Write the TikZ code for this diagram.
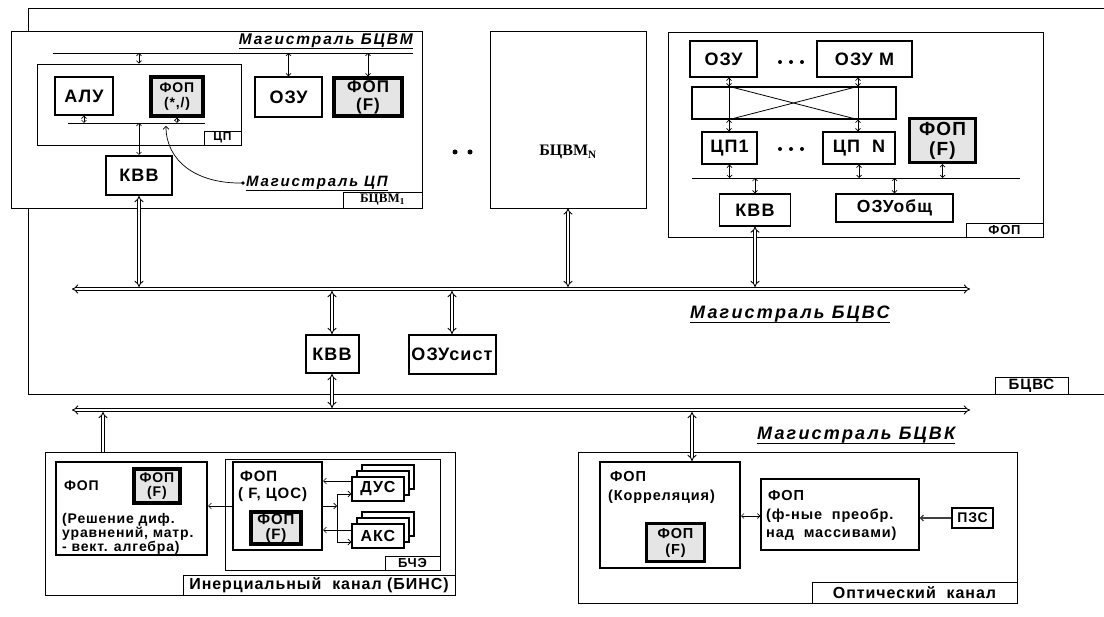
\documentclass[tikz,border=0pt]{standalone}
\usepackage{fontspec}
\setmainfont{Liberation Sans}[LetterSpace=6]
\newfontfamily\magf{Liberation Sans}[LetterSpace=12]
\newfontfamily\serf{Liberation Serif}
\usetikzlibrary{arrows.meta}
\definecolor{fopgray}{gray}{0.9}
\newcommand\fsz[2]{\fontsize{#1}{#2}\selectfont}
\tikzset{
 blk/.style={draw, line width=1.2pt, fill=white, inner sep=0pt, align=center},
 blkb/.style={draw, line width=2pt, fill=white, inner sep=0pt, align=center},
 thk/.style={draw, line width=3.2pt, fill=fopgray, inner sep=0pt, align=center},
 frame/.style={draw, line width=0.9pt, fill=white, inner sep=0pt},
 tag/.style={draw, line width=0.9pt, fill=white, inner sep=0pt},
 sarr/.style={line width=0.7pt, {Straight Barb[length=2.5pt,width=5pt]}-{Straight Barb[length=2.5pt,width=5pt]}},
 arr/.style={line width=0.7pt, -{Straight Barb[length=3pt,width=6pt]}},
 dbl/.style={double, double distance=2.2pt, line width=0.9pt, {Implies}-{Implies}},
 dblup/.style={double, double distance=2.2pt, line width=0.9pt, -{Implies}},
 txt/.style={inner sep=0pt, anchor=base west},
 mag/.style={inner sep=0pt},
}
\begin{document}
\begin{tikzpicture}[x=1pt,y=-1pt]
\useasboundingbox (0,0) rectangle (1104,617);
% outer BCVS frame
\draw[line width=0.9pt] (1104,8) -- (28,8) -- (28,394) -- (1104,394);
\node[tag, minimum width=73pt, minimum height=17pt, font=\bfseries\fsz{15}{17}] (bcvsL) at (1031.5,385.5) {БЦВС};

% BCVM1
\node[frame, minimum width=411pt, minimum height=177pt] (bcvm1) at (216.5,119.5) {};
\node[tag, minimum width=79pt, minimum height=16pt, font=\serf\bfseries\fsz{13}{15}] (bcvm1L) at (382.5,200) {БЦВМ\textsubscript{1}};
\node[mag, anchor=base east, font=\magf\bfseries\itshape\fsz{15.5}{17}] (magA) at (413,45) {Магистраль  БЦВМ};
\draw[line width=0.9pt] ([yshift=-3pt]magA.base west) -- ([yshift=-3pt]magA.base east);
\coordinate (busA1) at (53,53);
\coordinate (busA2) at (413,53);
\draw[line width=0.9pt] (busA1) -- (busA2);
\node[frame, minimum width=204pt, minimum height=81pt] (cpbox) at (139,104.5) {};
\node[tag, minimum width=37pt, minimum height=14pt, font=\bfseries\fsz{12}{14}] (cpL) at (222.5,138) {ЦП};
\draw[sarr] (cpbox.north |- busA1) -- (cpbox.north);
\node[blk, minimum width=58pt, minimum height=38pt, font=\bfseries\fsz{18}{20}] (alu) at (84,96) {АЛУ};
\node[thk, minimum width=52pt, minimum height=39pt, font=\bfseries\fsz{14}{15}] (fopm) at (177,96.5) {ФОП\\(*,/)};
\coordinate (cpb1) at (68,123);
\coordinate (cpb2) at (205,123);
\draw[line width=0.9pt] (cpb1) -- (cpb2);
\draw[sarr] (alu.south) -- (alu.south |- cpb1);
\draw[sarr] (fopm.south) -- (fopm.south |- cpb1);
\node[blkb, minimum width=66pt, minimum height=39pt, font=\bfseries\fsz{18}{20}] (kvv1) at (139,175.5) {КВВ};
\draw[sarr] (kvv1.north |- cpb1) -- (kvv1.north);
\coordinate (cpdot) at (243,183);
\fill (cpdot) circle (1.8pt);
\draw[arr] (cpdot) .. controls (195,184) and (166,160) .. (166,126);
\node[mag, anchor=base west, font=\magf\bfseries\itshape\fsz{15}{17}] (magCP) at (246,187) {Магистраль  ЦП};
\draw[line width=0.9pt] ([yshift=-3pt]magCP.base west) -- ([yshift=-3pt]magCP.base east);
\node[blk, minimum width=67pt, minimum height=40pt, font=\bfseries\fsz{18}{20}] (ozu1) at (288.5,97) {ОЗУ};
\draw[sarr] (ozu1.north |- busA1) -- (ozu1.north);
\node[thk, minimum width=68pt, minimum height=38pt, font=\bfseries\fsz{17}{18}] (fopf1) at (368,97) {ФОП\\(F)};
\draw[sarr] (fopf1.north |- busA1) -- (fopf1.north);

% dots and BCVM N
\fill (455,152) circle (2.5pt);
\fill (470,152) circle (2.5pt);
\node[frame, minimum width=156pt, minimum height=177pt] (bcvmN) at (568,119.5) {};
\node[inner sep=0pt, font=\serf\bfseries\fsz{16}{18}] (bcvmNt) at (568,152) {БЦВМ\textsubscript{N}};

% FOP region top right
\node[frame, minimum width=375pt, minimum height=205pt] (fopR) at (855.5,134.5) {};
\node[tag, minimum width=77pt, minimum height=14pt, font=\bfseries\fsz{13}{15}] (fopRL) at (1004.5,230) {ФОП};
\node[blk, minimum width=67pt, minimum height=36pt, font=\bfseries\fsz{18}{20}] (ozuA) at (723.5,59) {ОЗУ};
\node[blk, minimum width=95pt, minimum height=36pt, font=\bfseries\fsz{18}{20}] (ozuM) at (864.5,59) {ОЗУ М};
\fill (780,62) circle (2pt); \fill (791,62) circle (2pt); \fill (802,62) circle (2pt);
\node[frame, line width=1.2pt, minimum width=204pt, minimum height=32pt] (xbar) at (794,103) {};
\node[blk, minimum width=55pt, minimum height=32pt, font=\bfseries\fsz{18}{20}] (cp1) at (729.5,148) {ЦП1};
\node[blk, minimum width=72pt, minimum height=32pt, font=\bfseries\fsz{18}{20}] (cpN) at (859,148) {ЦП\ \ N};
\fill (780,149) circle (2pt); \fill (791,149) circle (2pt); \fill (802,149) circle (2pt);
\coordinate (xl) at (729,0);
\coordinate (xr) at (858,0);
\draw[sarr] (ozuA.south -| xl) -- (xbar.north -| xl);
\draw[sarr] (ozuM.south -| xr) -- (xbar.north -| xr);
\draw[line width=0.8pt] (xbar.north -| xl) -- (xbar.south -| xl);
\draw[line width=0.8pt] (xbar.north -| xr) -- (xbar.south -| xr);
\draw[line width=0.8pt] (xbar.north -| xl) -- (xbar.south -| xr);
\draw[line width=0.8pt] (xbar.north -| xr) -- (xbar.south -| xl);
\draw[sarr] (xbar.south -| xl) -- (cp1.north -| xl);
\draw[sarr] (xbar.south -| xr) -- (cpN.north -| xr);
\node[thk, minimum width=66pt, minimum height=44pt, font=\bfseries\fsz{19}{20}] (fopf2) at (942.5,140.5) {ФОП\\(F)};
\coordinate (busF1) at (692,178);
\coordinate (busF2) at (1020,178);
\draw[line width=0.9pt] (busF1) -- (busF2);
\draw[sarr] (cp1.south) -- (cp1.south |- busF1);
\draw[sarr] (cpN.south) -- (cpN.south |- busF1);
\draw[sarr] (fopf2.south) -- (fopf2.south |- busF1);
\node[blk, minimum width=71pt, minimum height=32pt, font=\bfseries\fsz{18}{20}] (kvv2) at (755,210) {КВВ};
\node[blk, minimum width=117pt, minimum height=28pt, font=\bfseries\fsz{17.5}{19}] (ozuO) at (894.5,208) {ОЗУобщ};
\draw[sarr] (kvv2.north |- busF1) -- (kvv2.north);
\draw[sarr] (ozuO.north |- busF1) -- (ozuO.north);

% BCVS bus
\coordinate (bS1) at (72,289);
\coordinate (bS2) at (970,289);
\coordinate (bStop) at (0,287);
\coordinate (bSbot) at (0,291);
\draw[dbl] (bS1) -- (bS2);
\draw[dbl] (kvv1.south) -- (kvv1.south |- bStop);
\draw[dbl] (bcvmN.south) -- (bcvmN.south |- bStop);
\draw[dbl] (kvv2.south) -- (kvv2.south |- bStop);
\node[mag, anchor=base west, font=\magf\bfseries\itshape\fsz{18}{20}] (magS) at (690,319) {Магистраль  БЦВС};
\draw[line width=0.9pt] ([yshift=-3pt]magS.base west) -- ([yshift=-3pt]magS.base east);
\node[blkb, minimum width=53pt, minimum height=38pt, font=\bfseries\fsz{18}{20}] (kvv3) at (332,354) {КВВ};
\node[blkb, minimum width=87pt, minimum height=39pt, font=\bfseries\fsz{18}{20}] (ozuS) at (452,354.5) {ОЗУсист};
\draw[dbl] (kvv3.north |- bSbot) -- (kvv3.north);
\draw[dbl] (ozuS.north |- bSbot) -- (ozuS.north);

% BCVK bus
\coordinate (b21) at (72,410);
\coordinate (b22) at (970,410);
\coordinate (b2top) at (0,408);
\coordinate (b2bot) at (0,412);
\draw[dbl] (b21) -- (b22);
\draw[dbl] (kvv3.south) -- (kvv3.south |- b2top);
\node[mag, anchor=base west, font=\magf\bfseries\itshape\fsz{18}{20}] (magK) at (757,440) {Магистраль  БЦВК};
\draw[line width=0.9pt] ([yshift=-3pt]magK.base west) -- ([yshift=-3pt]magK.base east);

% BINS
\node[frame, minimum width=410pt, minimum height=143pt] (bins) at (250,523.5) {};
\node[tag, minimum width=272pt, minimum height=20pt, font=\bfseries\fsz{16}{18}] (binsL) at (319,585) {Инерциальный\ \ канал (БИНС)};
\coordinate (binsX) at (103,0);
\draw[dblup] (bins.north -| binsX) -- (b2bot -| binsX);
\node[blkb, minimum width=151pt, minimum height=93pt] (fopL) at (131.5,508.5) {};
\node[txt, font=\bfseries\fsz{14}{16}] (fopLt) at (64,491) {ФОП};
\node[thk, minimum width=46pt, minimum height=34pt, font=\bfseries\fsz{14}{14}] (fopLi) at (157,486) {ФОП\\(F)};
\node[inner sep=0pt, anchor=north west, align=left, font=\bfseries\fsz{14}{12.5}] (fopLd) at (62,513) {(Решение диф.\\уравнений, матр.\\- вект. алгебра)};
\node[frame, minimum width=215pt, minimum height=111pt] (bche) at (332.5,514.5) {};
\node[tag, minimum width=55pt, minimum height=14pt, font=\bfseries\fsz{13}{15}] (bcheL) at (412.5,563) {БЧЭ};
\node[blkb, minimum width=89pt, minimum height=88pt] (fopC) at (277.5,506) {};
\node[txt, font=\bfseries\fsz{15}{17}] (fopCt) at (240,482) {ФОП};
\node[txt, font=\bfseries\fsz{15}{17}] (fopCs) at (238,499) {( F, ЦОС)};
\node[thk, minimum width=50pt, minimum height=32pt, font=\bfseries\fsz{15}{15}] (fopCi) at (276,528) {ФОП\\(F)};
\draw[arr] (fopC.west) -- (fopC.west -| fopL.east);
\node[blk, minimum width=52pt, minimum height=24pt] (dus3) at (388,477) {};
\node[blk, minimum width=52pt, minimum height=24pt] (dus2) at (383,483) {};
\node[blk, minimum width=52pt, minimum height=24pt, font=\bfseries\fsz{16}{18}] (dus) at (378,489) {ДУС};
\node[blk, minimum width=52pt, minimum height=24pt] (aks3) at (388,524) {};
\node[blk, minimum width=52pt, minimum height=24pt] (aks2) at (383,530) {};
\node[blk, minimum width=52pt, minimum height=24pt, font=\bfseries\fsz{16}{18}] (aks) at (378,536) {АКС};
\coordinate (yA) at (0,481);
\coordinate (yB) at (0,494);
\coordinate (yC) at (0,542);
\coordinate (yD) at (0,530);
\coordinate (fk) at (337,506);
\draw[arr] (yA -| dus.west) -- (yA -| fopC.east);
\draw[arr] (fopC.east |- fk) -- (fk);
\draw[line width=0.7pt] (fk |- yB) -- (fk |- yC);
\draw[arr] (fk |- yB) -- (yB -| dus.west);
\draw[arr] (fk |- yC) -- (yC -| aks.west);
\draw[arr] (yD -| aks.west) -- (yD -| fopC.east);

% Optical channel
\node[frame, minimum width=439pt, minimum height=151pt] (opt) at (797.5,527.5) {};
\node[tag, minimum width=205pt, minimum height=21pt, font=\bfseries\fsz{16}{18}] (optL) at (914.5,592.5) {Оптический\ \ канал};
\node[blkb, minimum width=140pt, minimum height=106pt] (corr) at (670,515) {};
\node[txt, font=\bfseries\fsz{14.5}{16}] (corrT) at (610,482) {ФОП};
\node[txt, font=\bfseries\fsz{14.5}{16}] (corrS) at (608,501) {(Корреляция)};
\node[thk, minimum width=58pt, minimum height=38pt, font=\bfseries\fsz{14.5}{16}] (corrI) at (675.5,542.5) {ФОП\\(F)};
\node[blk, minimum width=158pt, minimum height=71pt] (fn) at (840,514.5) {};
\node[txt, font=\bfseries\fsz{14.5}{16}] (fnT) at (768,501) {ФОП};
\node[txt, font=\bfseries\fsz{14.5}{16}] (fnS) at (766,520) {(ф-ные\ \ преобр.};
\node[txt, font=\bfseries\fsz{14.5}{16}] (fnU) at (766,537) {над\ \ массивами)};
\node[blkb, minimum width=41pt, minimum height=20pt, font=\bfseries\fsz{14}{16}] (pzs) at (972.5,518) {ПЗС};
\coordinate (yE) at (0,516);
\draw[sarr] (yE -| corr.east) -- (yE -| fn.west);
\draw[arr, line width=1.2pt, draw=black!75] (pzs.west) -- (pzs.west -| fn.east);
\coordinate (corrX) at (692,0);
\draw[dbl] (corr.north -| corrX) -- (b2bot -| corrX);
\end{tikzpicture}
\end{document}
